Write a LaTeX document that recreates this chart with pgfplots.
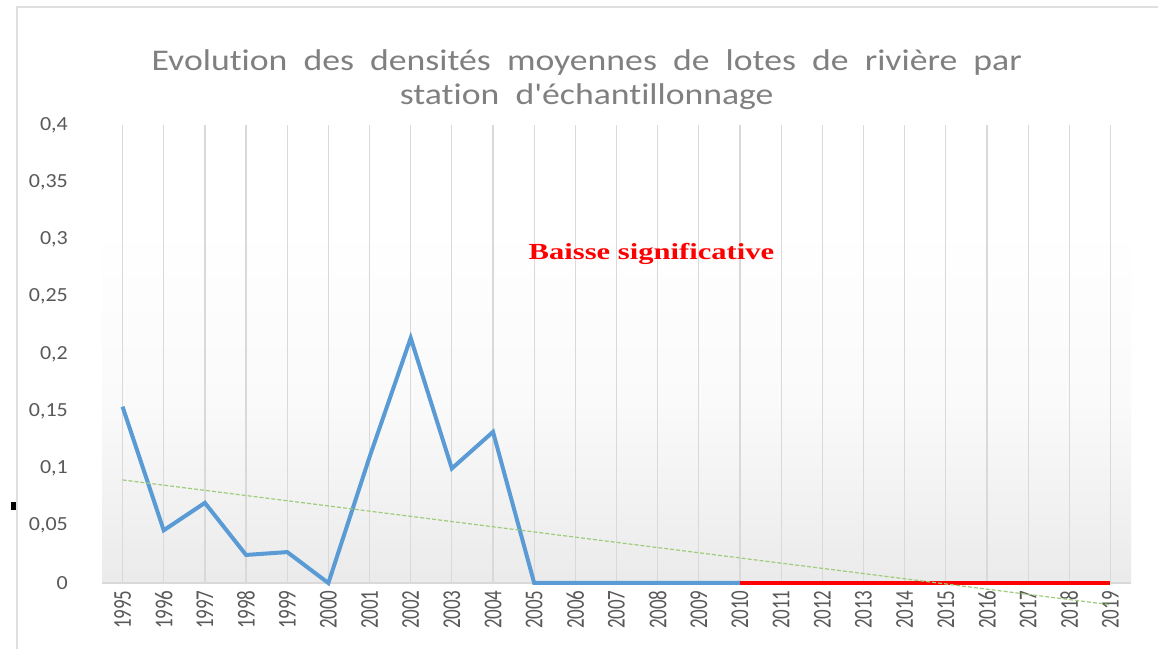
\documentclass[border=0pt]{standalone}
\usepackage{pgfplots}
\pgfplotsset{compat=1.18}
\usepackage{fontspec}
\setmainfont{Carlito}[Ligatures=NoCommon]
\newfontfamily\seriffont{Liberation Serif}
\definecolor{txtgray}{HTML}{595959}
\definecolor{titlegray}{HTML}{808080}
\definecolor{gridgray}{HTML}{D9D9D9}
\definecolor{blueline}{HTML}{5B9BD5}
\definecolor{trendgreen}{HTML}{9FCB7A}
\begin{document}
\begin{tikzpicture}[x=0.5pt,y=0.5pt]
\path[use as bounding box,fill=white] (0,0) rectangle (1169,649);
% frame
\draw[gray!25,line width=1pt] (17,0) -- (17,642) -- (1158,642);
\fill[black] (11,139) rectangle (16,147);
% plot background gradient
\shade[top color=white,bottom color=black!8,middle color=black!2] (102,66) rectangle (1131,424);
\begin{axis}[
  at={(51pt,33pt)}, anchor=south west,
  scale only axis, width=514.5pt, height=229pt,
  xmin=-0.5, xmax=24.5, ymin=0, ymax=0.4,
  clip=false,
  axis lines*=left,
  x axis line style={draw=gridgray,line width=0.8pt,-},
  y axis line style={draw=none,-},
  xtick={0,...,24},
  xticklabels={1995,1996,1997,1998,1999,2000,2001,2002,2003,2004,2005,2006,2007,2008,2009,2010,2011,2012,2013,2014,2015,2016,2017,2018,2019},
  x tick label style={rotate=90,anchor=east,font=\fontsize{9.5}{10}\selectfont,text=txtgray,yscale=1.35,inner sep=1pt,xshift=-2.5pt},
  xmajorgrids, major grid style={draw=gridgray,line width=0.6pt},
  major tick length=0pt,
  ytick={0,0.05,0.1,0.15,0.2,0.25,0.3,0.35,0.4},
  yticklabels={0,{0,05},{0,1},{0,15},{0,2},{0,25},{0,3},{0,35},{0,4}},
  y tick label style={text=txtgray,font=\fontsize{10}{12}\selectfont,xscale=1.1,xshift=-12pt},
  title style={font=\fontsize{15}{17}\selectfont,text=titlegray,align=center,xscale=1.19,yshift=-2pt,xshift=-12.5pt},
  title={Evolution\ \ des\ \ densités\ \ moyennes\ \ de\ \ lotes\ \ de\ \ rivière\ \ par\\station\ \ d\textquotesingle échantillonnage},
]
\addplot[blueline,line width=2pt] coordinates {
(0,0.154) (1,0.046) (2,0.070) (3,0.0245) (4,0.027) (5,0) (6,0.110) (7,0.214) (8,0.100) (9,0.132) (10,0) (11,0) (12,0) (13,0) (14,0) (15,0)};
\addplot[red,line width=2pt] coordinates {(15,0) (24,0)};
\addplot[trendgreen,line width=0.6pt,dash pattern=on 2pt off 1pt] coordinates {(0,0.090) (24,-0.019)};
\node[text=red,font=\seriffont\bfseries\fontsize{11.5}{13}\selectfont,xscale=1.33] at (axis cs:12.85,0.287) {Baisse significative};
\end{axis}
\end{tikzpicture}
\end{document}
